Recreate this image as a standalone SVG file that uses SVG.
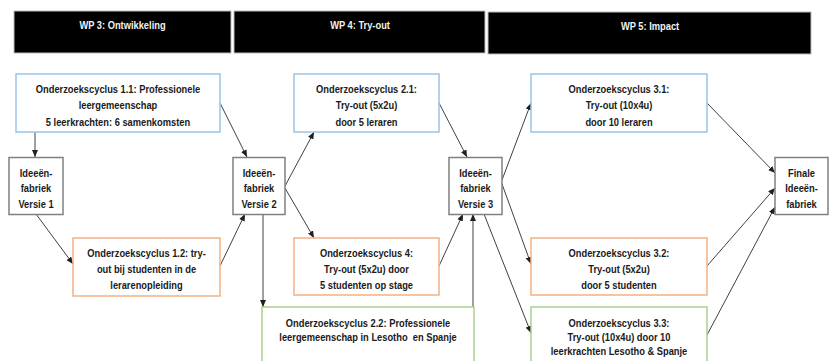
<svg xmlns="http://www.w3.org/2000/svg" width="835" height="361" viewBox="0 0 835 361">
<style>
text{font-family:"Liberation Sans",Arial,sans-serif;font-weight:bold;font-size:11.5px;fill:#1a1a1a;text-anchor:middle;transform-box:fill-box;transform-origin:center;transform:scaleX(0.81)}
.hdr rect{fill:#000;stroke:#bdbdbd;stroke-width:1}
.hdr text{fill:#f2f2f2}
.blue{fill:#fff;stroke:#9DC3E6;stroke-width:1.5}
.orange{fill:#fff;stroke:#F4B183;stroke-width:1.5}
.green{fill:#fff;stroke:#A9D18E;stroke-width:1.5}
.gray{fill:#fff;stroke:#808080;stroke-width:1.5}
#connectors line{stroke:#404040;stroke-width:1;marker-end:url(#arr)}
</style>
<defs>
<marker id="arr" markerWidth="7" markerHeight="6" refX="7" refY="3" orient="auto" markerUnits="userSpaceOnUse">
<path d="M0,0 L7,3 L0,6 z" fill="#202020"/>
</marker>
</defs>
<rect width="835" height="361" fill="#fff"/>
<g id="wp3" class="hdr"><rect x="14" y="11" width="217" height="42"/><text x="122.5" y="29.5">WP 3: Ontwikkeling</text></g>
<g id="wp4" class="hdr"><rect x="234" y="11" width="251" height="42"/><text x="360" y="29.5">WP 4: Try-out</text></g>
<g id="wp5" class="hdr"><rect x="488" y="12" width="323" height="42"/><text x="650" y="30.5">WP 5: Impact</text></g>

<g id="connectors">
<line x1="35" y1="132" x2="35" y2="157"/>
<line x1="220" y1="103" x2="247" y2="157"/>
<line x1="36" y1="214" x2="73" y2="264"/>
<line x1="220" y1="266" x2="245" y2="214"/>
<line x1="285" y1="186" x2="314" y2="132"/>
<line x1="285" y1="188" x2="314" y2="238"/>
<line x1="263" y1="214" x2="263" y2="307"/>
<line x1="439" y1="103" x2="467" y2="157"/>
<line x1="439" y1="266" x2="463" y2="214"/>
<line x1="473" y1="307" x2="473" y2="214"/>
<line x1="502" y1="180" x2="531" y2="103"/>
<line x1="502" y1="184" x2="531" y2="264"/>
<line x1="484" y1="214" x2="531" y2="333"/>
<line x1="707" y1="103" x2="775" y2="173"/>
<line x1="707" y1="266" x2="775" y2="188"/>
<line x1="707" y1="335" x2="775" y2="207"/>
</g>

<g id="oc11"><rect class="blue" x="16" y="74" width="204" height="58"/>
<text x="118" y="93">Onderzoekscyclus 1.1: Professionele</text>
<text x="118" y="109.5">leergemeenschap</text>
<text x="118" y="126">5 leerkrachten: 6 samenkomsten</text></g>

<g id="v1"><rect class="gray" x="9" y="157.5" width="54" height="57"/>
<text x="36" y="177">Ideeën-</text><text x="36" y="192.5">fabriek</text><text x="36" y="208">Versie 1</text></g>

<g id="oc12"><rect class="orange" x="73" y="238" width="147" height="58"/>
<text x="146.5" y="257">Onderzoekscyclus 1.2: try-</text>
<text x="146.5" y="273.5">out bij studenten in de</text>
<text x="146.5" y="289">lerarenopleiding</text></g>

<g id="v2"><rect class="gray" x="233" y="157.5" width="52" height="57"/>
<text x="259" y="177">Ideeën-</text><text x="259" y="192.5">fabriek</text><text x="259" y="208">Versie 2</text></g>

<g id="oc21"><rect class="blue" x="294" y="74" width="145" height="58"/>
<text x="366.5" y="93">Onderzoekscyclus 2.1:</text>
<text x="366.5" y="109.5">Try-out (5x2u)</text>
<text x="366.5" y="126">door 5 leraren</text></g>

<g id="oc4"><rect class="orange" x="294" y="238" width="145" height="57"/>
<text x="366.5" y="257">Onderzoekscyclus 4:</text>
<text x="366.5" y="273.5">Try-out (5x2u) door</text>
<text x="366.5" y="289">5 studenten op stage</text></g>

<g id="oc22"><rect class="green" x="262" y="307" width="212" height="60"/>
<text x="368" y="327">Onderzoekscyclus 2.2: Professionele</text>
<text x="368" y="341" xml:space="preserve">leergemeenschap in Lesotho  en Spanje</text></g>

<g id="v3"><rect class="gray" x="449" y="157.5" width="53" height="57"/>
<text x="475.5" y="177">Ideeën-</text><text x="475.5" y="192.5">fabriek</text><text x="475.5" y="208">Versie 3</text></g>

<g id="oc31"><rect class="blue" x="531" y="74" width="176" height="58"/>
<text x="619" y="93">Onderzoekscyclus 3.1:</text>
<text x="619" y="109.5">Try-out (10x4u)</text>
<text x="619" y="126">door 10 leraren</text></g>

<g id="oc32"><rect class="orange" x="531" y="238" width="176" height="57"/>
<text x="619" y="257">Onderzoekscyclus 3.2:</text>
<text x="619" y="273.5">Try-out (5x2u)</text>
<text x="619" y="289">door 5 studenten</text></g>

<g id="oc33"><rect class="green" x="531" y="307" width="176" height="60"/>
<text x="619" y="327">Onderzoekscyclus 3.3:</text>
<text x="619" y="341">Try-out (10x4u) door 10</text>
<text x="619" y="355">leerkrachten Lesotho &amp; Spanje</text></g>

<g id="finale"><rect class="gray" x="775" y="157.5" width="53" height="57"/>
<text x="801.5" y="177">Finale</text><text x="801.5" y="192.5">Ideeën-</text><text x="801.5" y="208">fabriek</text></g>
</svg>
